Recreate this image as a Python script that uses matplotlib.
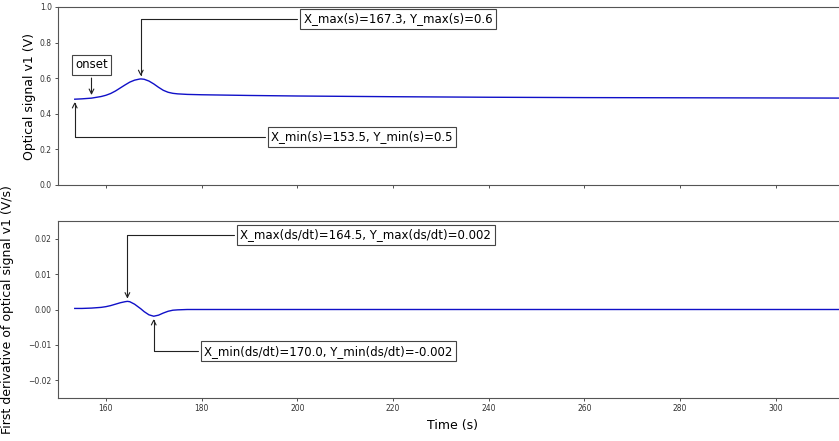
import matplotlib
matplotlib.use("Agg")
import matplotlib.pyplot as plt
from matplotlib.ticker import MultipleLocator

# time axis (s) and values
time_s = [153.5, 155, 157, 159, 160, 161, 162, 163, 164, 164.5, 165, 166, 167, 167.3,
          168, 169, 170, 171, 172, 173, 174, 175, 177, 180, 190, 200, 220, 240, 260,
          280, 300, 320, 340]
signal_v1 = [0.482, 0.484, 0.488, 0.497, 0.504, 0.514, 0.528, 0.545, 0.562, 0.570,
             0.578, 0.589, 0.595, 0.596, 0.594, 0.584, 0.568, 0.549, 0.532, 0.521,
             0.515, 0.512, 0.509, 0.507, 0.503, 0.500, 0.496, 0.493, 0.491, 0.490,
             0.489, 0.488, 0.488]
deriv_v1 = [0.0003, 0.0003, 0.0004, 0.0006, 0.0008, 0.0011, 0.0015, 0.0019, 0.0022,
            0.0023, 0.0022, 0.0015, 0.0005, 0.0002, -0.0006, -0.0015, -0.0019, -0.0016,
            -0.0010, -0.0005, -0.0002, -0.0001, 0.0, 0.0, 0.0, 0.0, 0.0, 0.0, 0.0,
            0.0, 0.0, 0.0, 0.0]

onset_t, onset_s = 157.0, 0.49
smax_t, smax = 167.3, 0.596
smin_t, smin = 153.5, 0.482
dmax_t, dmax = 164.5, 0.0023
dmin_t, dmin = 170.0, -0.0019

W, H = 839, 441
fig = plt.figure(figsize=(W / 100, H / 100), dpi=100)

# right spine sits just past the right edge of the picture (reference is cropped)
left_px, right_px = 58, 847
width = (right_px - left_px) / W
ax1 = fig.add_axes([left_px / W, 1 - 185 / H, width, 178 / H])
ax2 = fig.add_axes([left_px / W, 1 - 398 / H, width, 177 / H])

line_col = "#1010c8"
ax1.plot(time_s, signal_v1, color=line_col, lw=1.0)
ax2.plot(time_s, deriv_v1, color=line_col, lw=1.0)

xmax = 150 + (right_px - left_px) / 4.786
for ax in (ax1, ax2):
    ax.set_xlim(150, xmax)
    ax.xaxis.set_major_locator(MultipleLocator(20))
    ax.tick_params(labelsize=5.5, colors="#333333", length=2, width=0.6, pad=2.5)
    for sp in ax.spines.values():
        sp.set_color("#555555")
        sp.set_linewidth(0.8)

ax1.set_ylim(0, 1.0)
ax1.tick_params(axis="x", labelbottom=False)
ax2.set_ylim(-0.025, 0.025)

ax1.set_ylabel("Optical signal v1 (V)", fontsize=9)
ax2.set_ylabel("First derivative of optical signal v1 (V/s)", fontsize=9)
ax1.yaxis.set_label_coords((36.5 - left_px) / (right_px - left_px), 0.5)
ax2.yaxis.set_label_coords((14.5 - left_px) / (right_px - left_px), 0.5)
ax2.set_xlabel("Time (s)", fontsize=9, labelpad=4)

box = dict(boxstyle="square,pad=0.3", fc="white", ec="#444444", lw=0.8)
elbow = dict(arrowstyle="->", color="#222222", lw=0.8,
             connectionstyle="angle,angleA=0,angleB=90,rad=0")
fs = 8.5

ax1.annotate("X_max(s)=%.1f, Y_max(s)=%.1f" % (smax_t, smax), xy=(smax_t, smax),
             xytext=(201.3, 0.933), ha="left", va="center", fontsize=fs,
             bbox=box, arrowprops=elbow)
ax1.annotate("X_min(s)=%.1f, Y_min(s)=%.1f" % (smin_t, smin), xy=(smin_t, smin),
             xytext=(194.6, 0.27), ha="left", va="center", fontsize=fs,
             bbox=box, arrowprops=elbow)
ax1.annotate("onset", xy=(onset_t, onset_s), xytext=(157.0, 0.675),
             ha="center", va="center", fontsize=fs, bbox=box,
             arrowprops=dict(arrowstyle="->", color="#222222", lw=0.8))

ax2.annotate("X_max(ds/dt)=%.1f, Y_max(ds/dt)=%.3f" % (dmax_t, dmax), xy=(dmax_t, dmax),
             xytext=(188.1, 0.0211), ha="left", va="center", fontsize=fs,
             bbox=box, arrowprops=elbow)
ax2.annotate("X_min(ds/dt)=%.1f, Y_min(ds/dt)=%.3f" % (dmin_t, dmin), xy=(dmin_t, dmin),
             xytext=(180.6, -0.0118), ha="left", va="center", fontsize=fs,
             bbox=box, arrowprops=elbow)

fig.savefig("out.png", dpi=100)
